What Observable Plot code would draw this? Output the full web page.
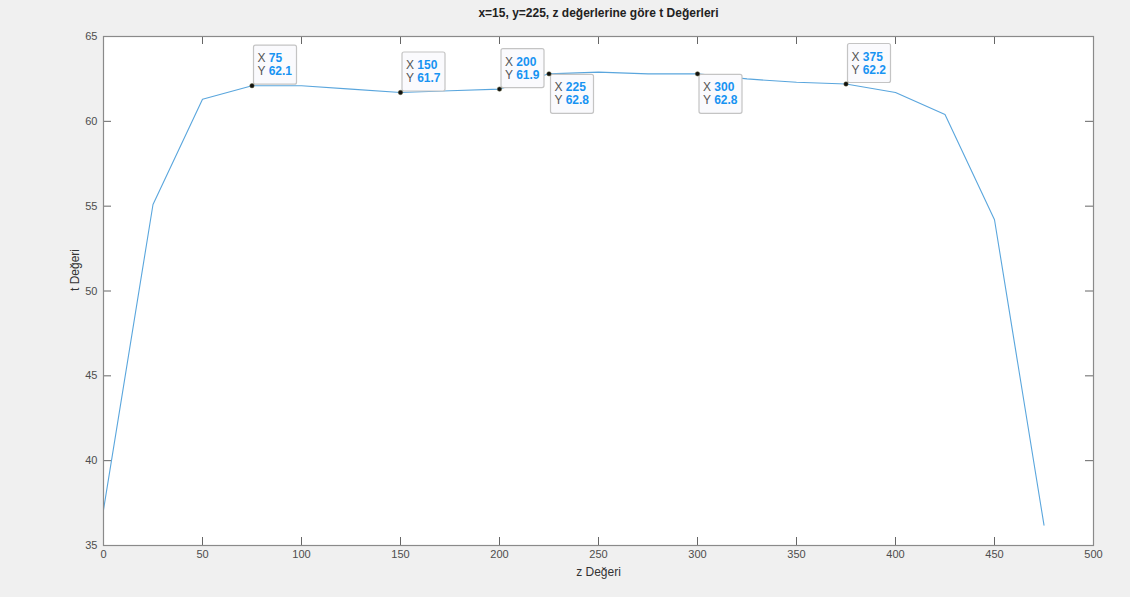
<!DOCTYPE html>
<html>
<head>
<meta charset="utf-8">
<script src="https://cdn.jsdelivr.net/npm/d3@7"></script>
<script src="https://cdn.jsdelivr.net/npm/@observablehq/plot@0.6"></script>
<style>
  html, body { margin: 0; padding: 0; background: #f0f0f0; }
  #chart { width: 1130px; height: 597px; overflow: hidden; }
  svg { display: block; }
</style>
</head>
<body>
<div id="chart"></div>
<script>
// ---- data ----
const zValues = [0, 25, 50, 75, 100, 125, 150, 175, 200, 225, 250, 275, 300, 325, 350, 375, 400, 425, 450, 475];
const tValues = [37.1, 55.1, 61.3, 62.1, 62.1, 61.9, 61.7, 61.8, 61.9, 62.8, 62.9, 62.8, 62.8, 62.5, 62.3, 62.2, 61.7, 60.4, 54.2, 36.2];
const tipZ = [75, 150, 200, 225, 300, 375];
const tipT = [62.1, 61.7, 61.9, 62.8, 62.8, 62.2];
const tipLabelBelow = [false, false, false, true, true, false];
const xTicks = [0, 50, 100, 150, 200, 250, 300, 350, 400, 450, 500];
const yTicks = [35, 40, 45, 50, 55, 60, 65];
const titleText = "x=15, y=225, z değerlerine göre t Değerleri";
const xLabel = "z Değeri";
const yLabel = "t Değeri";

const series = zValues.map((z, i) => ({z, t: tValues[i]}));
const tips = tipZ.map((z, i) => ({z, t: tipT[i], below: tipLabelBelow[i]}));

const W = 1130, H = 597;
const mL = 103, mR = 37, mT = 36, mB = 52;
const frameH = H - mT - mB, frameW = W - mL - mR;
const tickLen = 8;
const axisColor = "#4d4d4d";

function tipBoxes(index, scales, values, dimensions, context) {
  const g = d3.create("svg:g");
  const bw = 43, bh = 39;
  for (const d of tips) {
    const px = scales.x(d.z), py = scales.y(d.t);
    const bx = px + 2;
    const by = d.below ? py + 1 : py - 1 - bh;
    g.append("rect")
      .attr("x", bx).attr("y", by).attr("width", bw).attr("height", bh)
      .attr("rx", 2).attr("fill", "#fafafd").attr("stroke", "#c4c4c4").attr("stroke-width", 1.2);
    const lines = [["X ", String(d.z)], ["Y ", d.t.toFixed(1)]];
    lines.forEach((ln, k) => {
      const tx = g.append("text")
        .attr("x", bx + 4).attr("y", by + 14 + k * 13)
        .attr("text-anchor", "start")
        .attr("dominant-baseline", "middle")
        .attr("font-family", "'Liberation Sans', Arial, sans-serif")
        .attr("font-size", 12);
      tx.append("tspan").attr("fill", "#555").text(ln[0]);
      tx.append("tspan").attr("fill", "#1793f2").attr("font-weight", "bold").text(ln[1]);
    });
  }
  return g.node();
}

const plot = Plot.plot({
  width: W,
  height: H,
  marginLeft: mL,
  marginRight: mR,
  marginTop: mT,
  marginBottom: mB,
  style: {background: "#f0f0f0", fontFamily: "'Liberation Sans', Arial, sans-serif", fontSize: "11px", color: axisColor},
  x: {domain: [0, 500], ticks: xTicks},
  y: {domain: [35, 65], ticks: yTicks},
  marks: [
    Plot.frame({fill: "white", stroke: null}),
    Plot.axisX({ticks: xTicks, tickSize: 0, tickPadding: 5, label: null, fill: axisColor, fontSize: 11}),
    Plot.axisY({ticks: yTicks, tickSize: 0, tickPadding: 6, label: null, fill: axisColor, fontSize: 11}),
    // inward ticks: bottom, top, left, right
    Plot.ruleX(xTicks, {x: d => d, insetTop: frameH - tickLen, stroke: "#666", strokeWidth: 1}),
    Plot.ruleX(xTicks, {x: d => d, insetBottom: frameH - tickLen, stroke: "#666", strokeWidth: 1}),
    Plot.ruleY(yTicks, {y: d => d, insetRight: frameW - tickLen, stroke: "#666", strokeWidth: 1}),
    Plot.ruleY(yTicks, {y: d => d, insetLeft: frameW - tickLen, stroke: "#666", strokeWidth: 1}),
    Plot.line(series, {x: "z", y: "t", stroke: "#5aa6dd", strokeWidth: 1.1}),
    Plot.frame({stroke: "#8a8a8a", strokeWidth: 1.2}),
    tipBoxes,
    Plot.dot(tips, {x: "z", y: "t", r: 2.2, fill: "#111", stroke: "#5a5a30", strokeWidth: 0.5}),
    Plot.text([titleText], {frameAnchor: "top", dy: -23, text: d => d, fontWeight: "bold", fontSize: 12, fill: "#222", lineAnchor: "middle"}),
    Plot.text([xLabel], {frameAnchor: "bottom", dy: 27, text: d => d, fontSize: 12, fill: "#333", lineAnchor: "middle"}),
    Plot.text([yLabel], {frameAnchor: "left", dx: -28, text: d => d, rotate: -90, fontSize: 12, fill: "#333", lineAnchor: "middle"})
  ]
});
document.getElementById("chart").append(plot);
</script>
</body>
</html>
